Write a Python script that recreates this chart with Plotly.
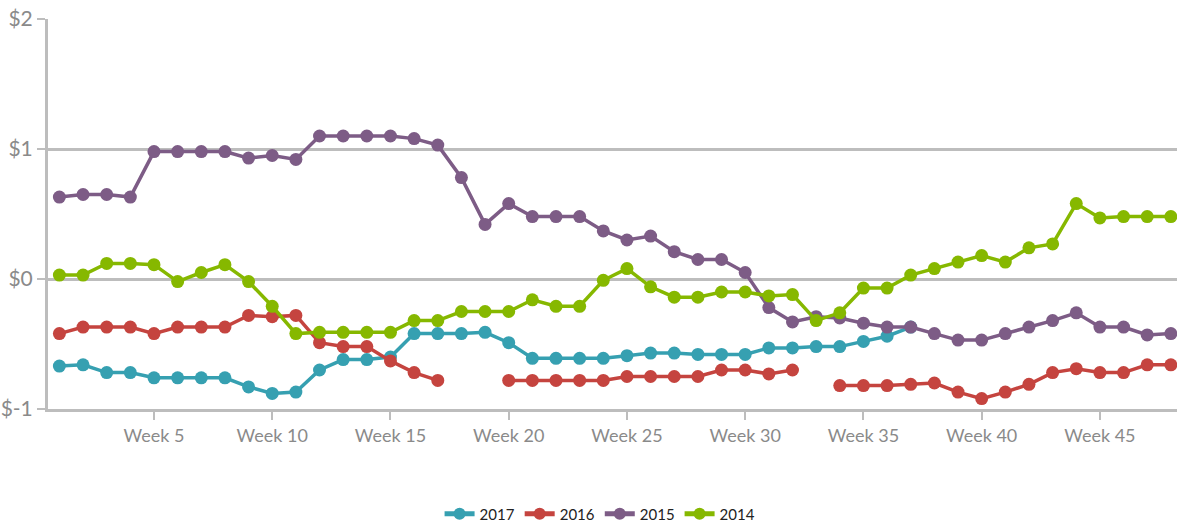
import plotly.graph_objects as go

weeks = [f"Week {i}" for i in range(1, 49)]

s2017 = [-0.67, -0.66, -0.72, -0.72, -0.76, -0.76, -0.76, -0.76, -0.83, -0.88,
         -0.87, -0.70, -0.62, -0.62, -0.60, -0.42, -0.42, -0.42, -0.41, -0.49,
         -0.61, -0.61, -0.61, -0.61, -0.59, -0.57, -0.57, -0.58, -0.58, -0.58,
         -0.53, -0.53, -0.52, -0.52, -0.48, -0.44, -0.37, None, None, None,
         None, None, None, None, None, None, None, None]

s2016 = [-0.42, -0.37, -0.37, -0.37, -0.42, -0.37, -0.37, -0.37, -0.28, -0.29,
         -0.28, -0.49, -0.52, -0.52, -0.63, -0.72, -0.78, None, None, -0.78,
         -0.78, -0.78, -0.78, -0.78, -0.75, -0.75, -0.75, -0.75, -0.70, -0.70,
         -0.73, -0.70, None, -0.82, -0.82, -0.82, -0.81, -0.80, -0.87, -0.92,
         -0.87, -0.81, -0.72, -0.69, -0.72, -0.72, -0.66, -0.66]

s2015 = [0.63, 0.65, 0.65, 0.63, 0.98, 0.98, 0.98, 0.98, 0.93, 0.95,
         0.92, 1.10, 1.10, 1.10, 1.10, 1.08, 1.03, 0.78, 0.42, 0.58,
         0.48, 0.48, 0.48, 0.37, 0.30, 0.33, 0.21, 0.15, 0.15, 0.05,
         -0.22, -0.33, -0.29, -0.30, -0.34, -0.37, -0.37, -0.42, -0.47, -0.47,
         -0.42, -0.37, -0.32, -0.26, -0.37, -0.37, -0.43, -0.42]

s2014 = [0.03, 0.03, 0.12, 0.12, 0.11, -0.02, 0.05, 0.11, -0.02, -0.21,
         -0.42, -0.41, -0.41, -0.41, -0.41, -0.32, -0.32, -0.25, -0.25, -0.25,
         -0.16, -0.21, -0.21, -0.01, 0.08, -0.06, -0.14, -0.14, -0.10, -0.10,
         -0.13, -0.12, -0.32, -0.26, -0.07, -0.07, 0.03, 0.08, 0.13, 0.18,
         0.13, 0.24, 0.27, 0.58, 0.47, 0.48, 0.48, 0.48]

series_names = ["2017", "2016", "2015", "2014"]
series_values = [s2017, s2016, s2015, s2014]
colors = ["#36A0B1", "#C5443F", "#7D5C86", "#86B800"]

x_tick_labels = [f"Week {i}" for i in range(5, 49, 5)]
y_tick_vals = [-1, 0, 1, 2]
y_tick_labels = ["$-1", "$0", "$1", "$2"]

fig = go.Figure()
for name, vals, col in zip(series_names, series_values, colors):
    fig.add_trace(go.Scatter(
        x=weeks, y=vals, name=name, mode="lines+markers",
        line=dict(color=col, width=3.5),
        marker=dict(color=col, size=13),
        connectgaps=False,
    ))

grid = "#BDBDBD"
fnt = "Lato"
fig.update_layout(
    width=1177, height=529,
    margin=dict(l=48, r=0, t=19, b=120, autoexpand=False),
    paper_bgcolor="white", plot_bgcolor="white",
    font=dict(family=fnt, color="#8A8A8A"),
    showlegend=True,
    legend=dict(orientation="h", x=0.489, xanchor="center", y=-0.269, yanchor="middle",
                font=dict(size=15, color="#222222", family=fnt), itemsizing="constant",
                traceorder="normal", itemwidth=30),
    xaxis=dict(
        type="category", categoryorder="array", categoryarray=weeks,
        range=[-0.482, 47.26], automargin=False,
        tickmode="array", tickvals=x_tick_labels, ticktext=x_tick_labels,
        showgrid=False, zeroline=False,
        showline=True, linecolor=grid, linewidth=3,
        ticks="outside", ticklen=8, tickcolor=grid, tickwidth=2,
        tickfont=dict(size=18, color="#8A8A8A"),
    ),
    yaxis=dict(
        range=[-1, 2], tickmode="array", tickvals=y_tick_vals, ticktext=y_tick_labels,
        automargin=False,
        showgrid=True, gridcolor=grid, gridwidth=3,
        zeroline=False,
        showline=True, linecolor=grid, linewidth=3,
        ticks="outside", ticklen=8, tickcolor=grid, tickwidth=2,
        tickfont=dict(size=21, color="#8A8A8A"),
    ),
)

fig.write_html("out.html", config={"displayModeBar": False},
               post_script="document.body.style.margin='0';document.body.style.overflow='hidden';")
